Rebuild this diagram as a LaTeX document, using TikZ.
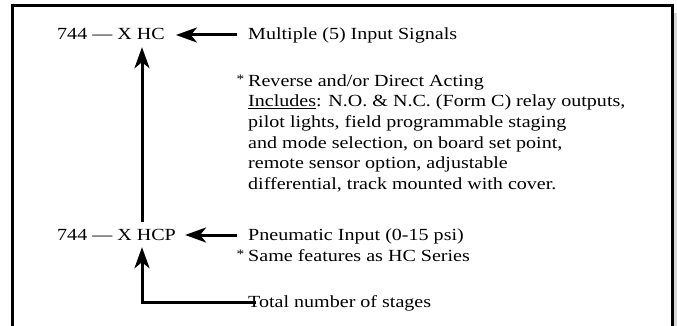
\documentclass[tikz,border=0pt]{standalone}
\usepackage{fontspec}
\setmainfont{Liberation Serif}[FakeStretch=1.18]
\usetikzlibrary{arrows.meta}
\newcommand{\featstar}{\llap{\raisebox{2.5pt}{\fontsize{13}{13}\selectfont *}\hspace{4pt}}}
\begin{document}
\begin{tikzpicture}[x=1pt,y=-1pt,
  lbl/.style={anchor=base west, inner sep=0pt, text height=13pt, text depth=3pt, font=\fontsize{17}{21}\selectfont},
  para/.style={anchor=north west, inner sep=0pt, align=left, font=\fontsize{17}{20.6}\selectfont},
  arr/.style={line width=3pt, -{Stealth[length=21pt,width=15pt,inset=6pt]}},
  frameline/.style={line width=3pt}]
\useasboundingbox (0,0) rectangle (677,326);
% frame
\fill[black!16] (673.5,13) rectangle (677,326);
\draw[frameline] (12.5,326) -- (12.5,6) -- (672,6) -- (672,326);
% nodes
\node[lbl] (hc) at (57,40) {744 — X HC};
\node[lbl] (mult) at (248,40) {Multiple (5) Input Signals};
\node[para] (feat) at (248,73) {\featstar\rule{0pt}{13pt}Reverse and/or Direct Acting\\
\underline{Includes}: N.O. \& N.C. (Form C) relay outputs,\\
pilot lights, field programmable staging\\
and mode selection, on board set point,\\
remote sensor option, adjustable\\
differential, track mounted with cover.};
\node[lbl] (hcp) at (57,240) {744 — X HCP};
\node[lbl] (pneu) at (248,240) {Pneumatic Input (0-15 psi)};
\node[lbl] (same) at (248,261) {\featstar Same features as HC Series};
\node[lbl] (total) at (248,307) {Total number of stages};
\coordinate (col) at (142,0);
% connectors
\draw[arr] ([xshift=-11pt]mult.west) -- ([xshift=11pt]hc.east);
\draw[arr] ([xshift=-11pt]pneu.west) -- ([xshift=9pt]hcp.east);
\draw[arr, shorten <=5pt, shorten >=4pt] (hcp.north -| col) -- (hc.south -| col);
\draw[arr, shorten >=4pt] ([xshift=8pt]total.west) -| (hcp.south -| col);
\end{tikzpicture}
\end{document}
